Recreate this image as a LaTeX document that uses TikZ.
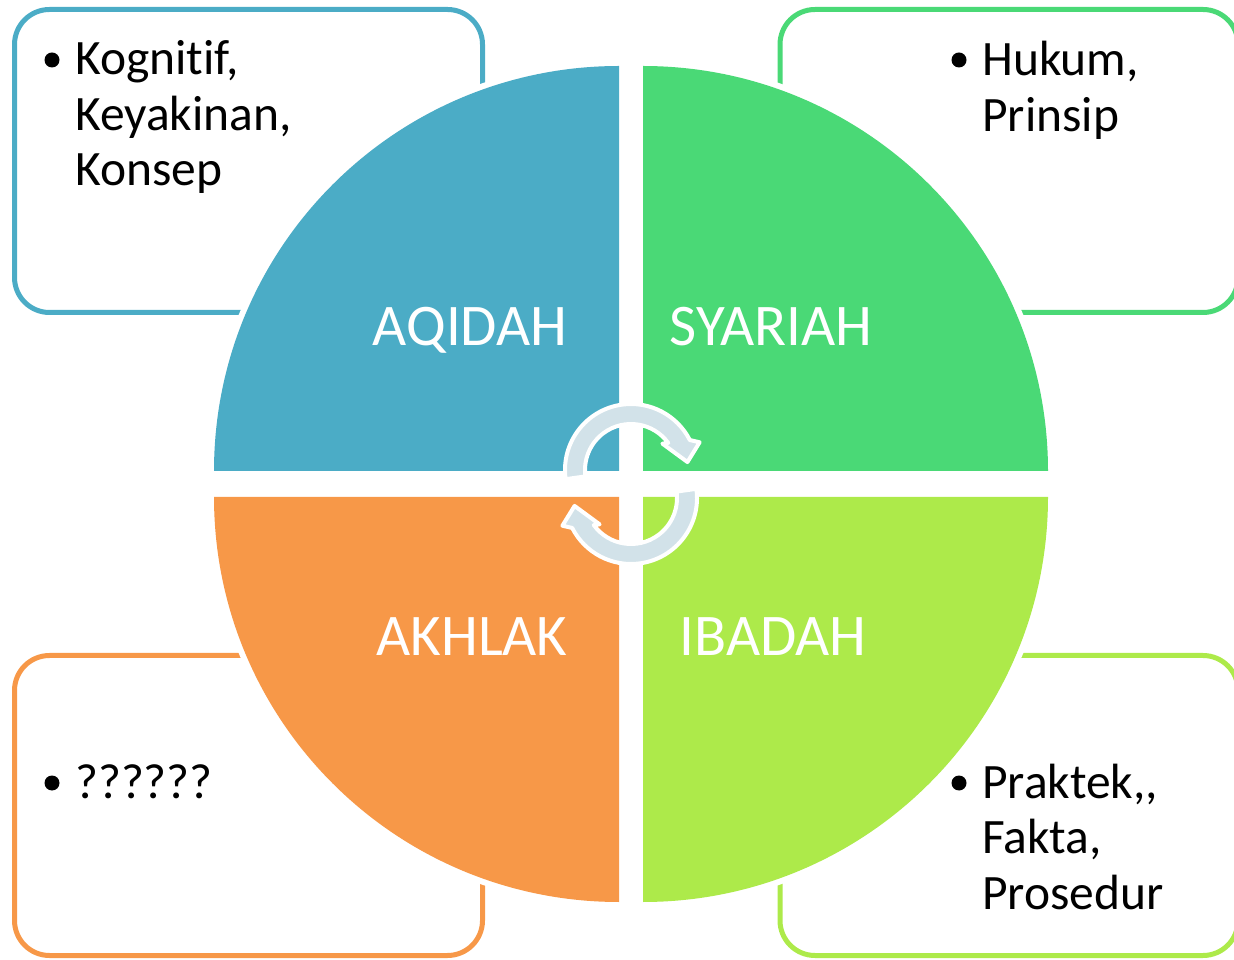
\documentclass[tikz,border=0pt]{standalone}
\usepackage{fontspec}
\setmainfont{Carlito}[Ligatures={NoCommon}]
\usetikzlibrary{positioning}
\definecolor{aqi}{RGB}{75,172,198}
\definecolor{sya}{RGB}{74,217,118}
\definecolor{akh}{RGB}{247,152,72}
\definecolor{iba}{RGB}{173,234,74}
\definecolor{turncol}{RGB}{210,226,233}
\begin{document}
\begin{tikzpicture}[x=1pt,y=1pt,
    frame/.style={line width=5pt,rounded corners=35pt},
    q/.style={text=white,font=\fontsize{59}{70}\selectfont,inner sep=0pt,anchor=base},
    item/.style={font=\fontsize{49.5}{55.5}\selectfont,align=left,inner sep=0pt,anchor=base west},
    dot/.style={circle,fill=black,inner sep=0pt,minimum size=15pt},
    turn/.style={fill=turncol,draw=white,line width=4pt,line join=round}]
    \useasboundingbox (0,0) rectangle (1234,959);
    % boxes behind the circle
    \draw[frame,aqi] (14.5,646.5) rectangle (482.5,949.5);
    \draw[frame,sya] (780,646.5) rectangle (1238,949.5);
    \draw[frame,akh] (14.5,3.5) rectangle (482.5,303.5);
    \draw[frame,iba] (780,3.5) rectangle (1238,303.5);
    % four quarters
    \foreach \col/\cx/\cy/\a in {aqi/619/488/90, sya/643/488/0, akh/619/462/180, iba/643/462/270} {
        \fill[white] (\cx,\cy) -- ++(\a:411pt) arc[start angle=\a,delta angle=90,radius=411pt] -- cycle;
        \fill[\col] (\cx,\cy) -- ++(\a:405pt) arc[start angle=\a,delta angle=90,radius=405pt] -- cycle;
    }
    \node[q] (aqidah) at (470,613) {AQIDAH};
    \node[q] (syariah) at (771,613) {SYARIAH};
    \node[q] (akhlak) at (472,303) {AKHLAK};
    \node[q] (ibadah) at (773,303) {IBADAH};
    % turning arrows
    \foreach \cy/\r in {489/0, 461/180} {
        \begin{scope}[shift={(631,\cy)},rotate=\r]
            \filldraw[turn] (188:66pt) arc[start angle=188,end angle=27,radius=66pt]
                -- (22:74pt) -- (8:57pt) -- (40:41pt) -- (36:46pt)
                arc[start angle=36,end angle=188,radius=46pt] -- cycle;
        \end{scope}
    }
    % bullets and texts (base = last line)
    \node[dot] (b1) at (52,899) {};
    \node[item] (t1) at (75,773) {Kognitif,\\Keyakinan,\\Konsep};
    \node[dot] (b2) at (959,899) {};
    \node[item] (t2) at (982,827.5) {Hukum,\\Prinsip};
    \node[dot] (b3) at (52,176) {};
    \node[item] (t3) at (75,161) {??????};
    \node[dot] (b4) at (959,176) {};
    \node[item] (t4) at (982,50) {Praktek,{},\\Fakta,\\Prosedur};
\end{tikzpicture}
\end{document}
